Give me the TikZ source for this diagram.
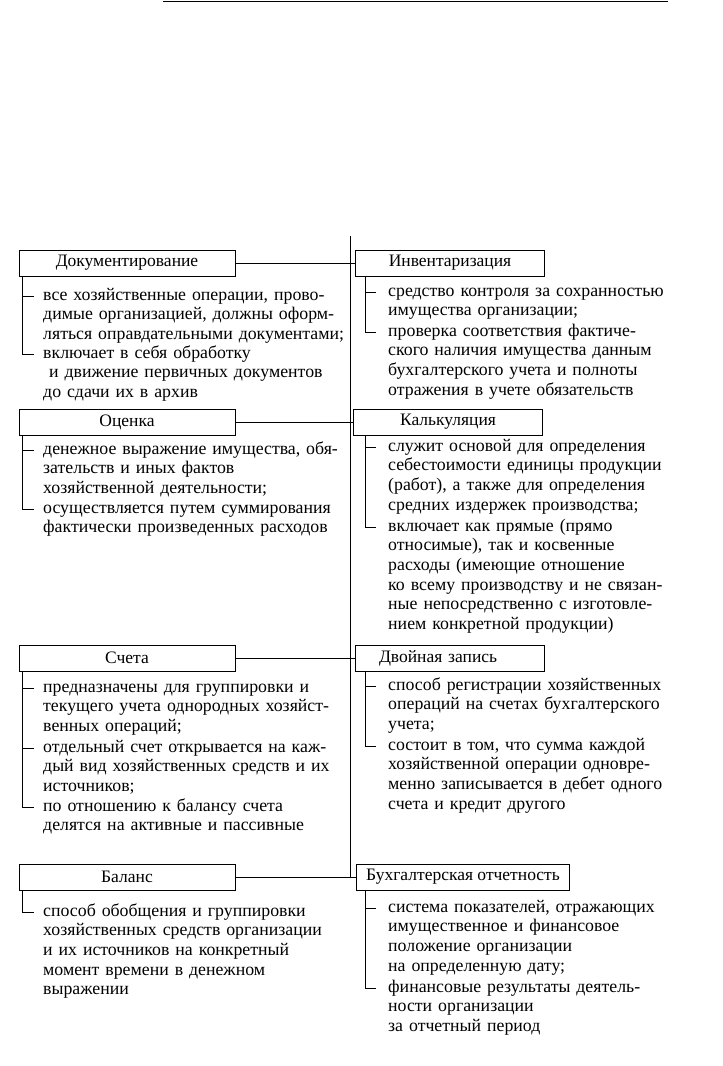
\documentclass[tikz,border=0pt]{standalone}
\usepackage{fontspec}
\setmainfont{Liberation Serif}
\begin{document}
\begin{tikzpicture}[x=1pt,y=-1pt,
  box/.style={draw,line width=0.9pt,minimum height=26pt,inner sep=0pt,font=\fontsize{17.5}{19}\selectfont},
  leftbox/.style={box,minimum width=216pt},
  rightbox/.style={box,minimum width=189pt},
  item/.style={anchor=base west,inner sep=0pt,text width=320pt,align=left,font=\fontsize{17.8}{19.7}\selectfont},
  tick/.style={line width=0.8pt}]
\useasboundingbox (0,0) rectangle (723,1066);
\draw[line width=1pt] (163,1) -- (668,1);
% headings
\node[leftbox] (dok) at (127,263) {Документирование};
\node[rightbox] (inv) at (450,263) {Инвентаризация};
\node[leftbox] (ocen) at (127,422) {Оценка};
\node[rightbox] (kalk) at (448,422) {Калькуляция};
\node[leftbox] (scheta) at (127,658) {Счета};
\node[rightbox,text width=142pt,align=left] (dvoin) at (450,658) {Двойная запись};
\node[leftbox] (balans) at (127,877) {Баланс};
\node[box,minimum width=213pt] (buh) at (463,877) {Бухгалтерская отчетность};
% spine and links
\coordinate (spinetop) at (350,236);
\draw[line width=0.9pt] (spinetop) -- (spinetop |- buh.west);
\draw[line width=0.9pt] (dok) -- (inv);
\draw[line width=0.9pt] (ocen) -- (kalk);
\draw[line width=0.9pt] (scheta) -- (dvoin);
\draw[line width=0.9pt] (balans) -- (buh);
% left column
\node[item] (d1) at (43,300) {все хозяйственные операции, прово-\\димые организацией, должны оформ-\\ляться оправдательными документами;};
\node[item] (d2) at (43,358) {включает в себя обработку\\\hspace*{6pt}и движение первичных документов\\до сдачи их в архив};
\node[item] (o1) at (43,454) {денежное выражение имущества, обя-\\зательств и иных фактов\\хозяйственной деятельности;};
\node[item] (o2) at (43,513) {осуществляется путем суммирования\\фактически произведенных расходов};
\node[item] (s1) at (43,692) {предназначены для группировки и\\текущего учета однородных хозяйст-\\венных операций;};
\node[item] (s2) at (43,752) {отдельный счет открывается на каж-\\дый вид хозяйственных средств и их\\источников;};
\node[item] (s3) at (43,811) {по отношению к балансу счета\\делятся на активные и пассивные};
\node[item] (b1) at (43,916) {способ обобщения и группировки\\хозяйственных средств организации\\и их источников на конкретный\\момент времени в денежном\\выражении};
% right column
\node[item] (i1) at (388,296) {средство контроля за сохранностью\\имущества организации;};
\node[item] (i2) at (388,336) {проверка соответствия фактиче-\\ского наличия имущества данным\\бухгалтерского учета и полноты\\отражения в учете обязательств};
\node[item] (k1) at (388,451) {служит основой для определения\\себестоимости единицы продукции\\(работ), а также для определения\\средних издержек производства;};
\node[item] (k2) at (388,531) {включает как прямые (прямо\\относимые), так и косвенные\\расходы (имеющие отношение\\ко всему производству и не связан-\\ные непосредственно с изготовле-\\нием конкретной продукции)};
\node[item] (z1) at (388,690) {способ регистрации хозяйственных\\операций на счетах бухгалтерского\\учета;};
\node[item] (z2) at (388,750) {состоит в том, что сумма каждой\\хозяйственной операции одновре-\\менно записывается в дебет одного\\счета и кредит другого};
\node[item] (u1) at (388,912) {система показателей, отражающих\\имущественное и финансовое\\положение организации\\на определенную дату;};
\node[item] (u2) at (388,992) {финансовые результаты деятель-\\ности организации\\за отчетный период};
% tick ends
\coordinate (d1t) at ([shift={(-9pt,4pt)}]d1.base west);
\coordinate (d2t) at ([shift={(-9pt,4pt)}]d2.base west);
\coordinate (o1t) at ([shift={(-9pt,4pt)}]o1.base west);
\coordinate (o2t) at ([shift={(-9pt,4pt)}]o2.base west);
\coordinate (s1t) at ([shift={(-9pt,4pt)}]s1.base west);
\coordinate (s2t) at ([shift={(-9pt,4pt)}]s2.base west);
\coordinate (s3t) at ([shift={(-9pt,4pt)}]s3.base west);
\coordinate (b1t) at ([shift={(-9pt,4pt)}]b1.base west);
\coordinate (i1t) at ([shift={(-12pt,4pt)}]i1.base west);
\coordinate (i2t) at ([shift={(-12pt,4pt)}]i2.base west);
\coordinate (k1t) at ([shift={(-12pt,4pt)}]k1.base west);
\coordinate (k2t) at ([shift={(-12pt,4pt)}]k2.base west);
\coordinate (z1t) at ([shift={(-12pt,4pt)}]z1.base west);
\coordinate (z2t) at ([shift={(-12pt,4pt)}]z2.base west);
\coordinate (u1t) at ([shift={(-12pt,4pt)}]u1.base west);
\coordinate (u2t) at ([shift={(-12pt,4pt)}]u2.base west);
\coordinate (lx) at (22,0);
\coordinate (rx) at (365,0);
% brackets
\draw[tick] (dok.south -| lx) |- (d2t);
\draw[tick] (d1t) -- (d1t -| lx);
\draw[tick] (ocen.south -| lx) |- (o2t);
\draw[tick] (o1t) -- (o1t -| lx);
\draw[tick] (scheta.south -| lx) |- (s3t);
\draw[tick] (s1t) -- (s1t -| lx);
\draw[tick] (s2t) -- (s2t -| lx);
\draw[tick] (balans.south -| lx) |- (b1t);
\draw[tick] (inv.south -| rx) |- (i2t);
\draw[tick] (i1t) -- (i1t -| rx);
\draw[tick] (kalk.south -| rx) |- (k2t);
\draw[tick] (k1t) -- (k1t -| rx);
\draw[tick] (dvoin.south -| rx) |- (z2t);
\draw[tick] (z1t) -- (z1t -| rx);
\draw[tick] (buh.south -| rx) |- (u2t);
\draw[tick] (u1t) -- (u1t -| rx);
\end{tikzpicture}
\end{document}
